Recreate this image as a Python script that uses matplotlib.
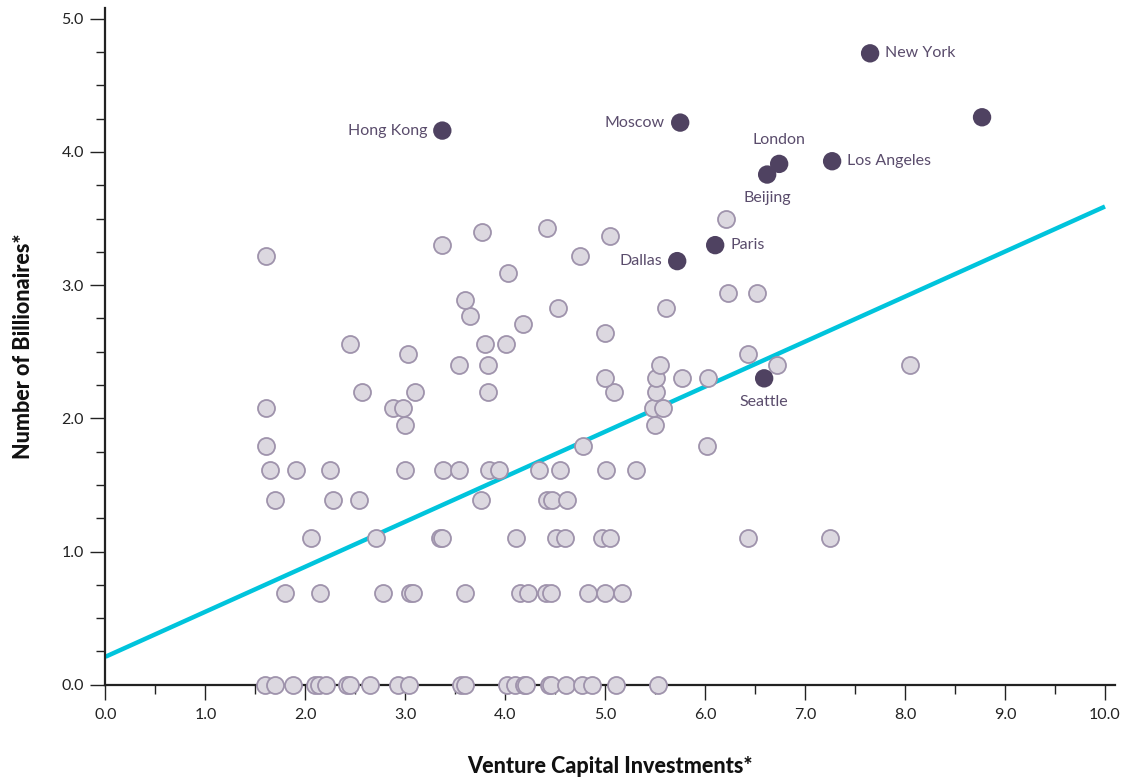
import matplotlib
matplotlib.use("Agg")
import matplotlib.pyplot as plt
from matplotlib.ticker import MultipleLocator, FormatStrFormatter

# ---- data ----
grey_x = [
    # y = 0.00
    1.60, 1.70, 1.88, 2.10, 2.14, 2.21, 2.42, 2.45, 2.65, 2.93, 3.04, 3.56, 3.60,
    4.02, 4.10, 4.19, 4.21, 4.44, 4.46, 4.61, 4.77, 4.87, 5.11, 5.53,
    # y = 0.69
    1.80, 2.15, 2.78, 3.05, 3.08, 3.60, 4.15, 4.23, 4.41, 4.46, 4.83, 5.00, 5.17,
    # y = 1.10
    2.06, 2.71, 3.35, 3.37, 4.11, 4.51, 4.60, 4.97, 5.05, 6.43, 7.25,
    # y = 1.39
    1.70, 2.28, 2.54, 3.76, 4.42, 4.47, 4.62,
    # y = 1.61
    1.65, 1.91, 2.25, 3.00, 3.38, 3.54, 3.84, 3.94, 4.34, 4.55, 5.01, 5.31,
    # y = 1.79
    1.61, 4.78, 6.02,
    # y = 1.95
    3.00, 5.50,
    # y = 2.08
    1.61, 2.88, 2.98, 5.48, 5.58,
    # y = 2.20
    2.57, 3.10, 3.83, 5.09, 5.51,
    # y = 2.30
    5.00, 5.51, 5.77, 6.03,
    # y = 2.40
    3.54, 3.83, 5.55, 6.72, 8.05,
    # y = 2.48
    3.03, 6.43,
    # y = 2.56
    2.45, 3.80, 4.01,
    # higher
    5.00, 4.18, 3.65, 4.53, 5.61, 3.60, 6.23, 6.52, 4.03, 1.61, 4.75,
    3.37, 5.05, 3.77, 4.42, 6.21,
]
grey_y = (
    [0.00] * 24 + [0.69] * 13 + [1.10] * 11 + [1.39] * 7 + [1.61] * 12 +
    [1.79] * 3 + [1.95] * 2 + [2.08] * 5 + [2.20] * 5 + [2.30] * 4 +
    [2.40] * 5 + [2.48] * 2 + [2.56] * 3 +
    [2.64, 2.71, 2.77, 2.83, 2.83, 2.89, 2.94, 2.94, 3.09, 3.22, 3.22,
     3.30, 3.37, 3.40, 3.43, 3.50]
)

city_names = ["Hong Kong", "Moscow", "New York", "", "London", "Beijing",
              "Los Angeles", "Paris", "Dallas", "Seattle"]
city_x = [3.37, 5.75, 7.65, 8.77, 6.74, 6.62, 7.27, 6.10, 5.72, 6.59]
city_y = [4.16, 4.22, 4.74, 4.26, 3.91, 3.83, 3.93, 3.30, 3.18, 2.30]
city_side = ["left", "left", "right", "right", "above", "below",
             "right", "right", "left", "below"]

trend_x = [0.0, 10.0]
trend_y = [0.21, 3.59]

x_ticks = [0, 1, 2, 3, 4, 5, 6, 7, 8, 9, 10]
y_ticks = [0, 1, 2, 3, 4, 5]

# ---- styles ----
FONT = "Lato"
GREY_FACE = "#dcd8e0"
GREY_EDGE = "#9f93ac"
DARK = "#4f4261"
LABEL_COLOR = "#5a4c6c"
TREND = "#00c4dc"
AXIS = "#222222"

fig = plt.figure(figsize=(11.33, 7.81), dpi=100)
ax = fig.add_axes([0.0931, 0.1233, 0.891, 0.8664])

ax.plot(trend_x, trend_y, color=TREND, lw=3.2, solid_capstyle="butt", zorder=2)
ax.scatter(grey_x, grey_y, s=150, facecolor=GREY_FACE, edgecolor=GREY_EDGE,
           linewidth=1.3, zorder=3, clip_on=False)
ax.scatter(city_x, city_y, s=175, facecolor=DARK, edgecolor="none",
           zorder=4, clip_on=False)

offsets = {"left": (-11, 0, "right"), "right": (11, 0, "left"),
           "above": (0, 17, "center"), "below": (0, -17, "center")}
for name, x, y, side in zip(city_names, city_x, city_y, city_side):
    if not name:
        continue
    dx, dy, ha = offsets[side]
    ax.annotate(name, (x, y), xytext=(dx, dy), textcoords="offset points",
                ha=ha, va="center", fontsize=11.5, color=LABEL_COLOR,
                family=FONT, zorder=5)

ax.set_xlim(0, 10.1)
ax.set_ylim(0, 5.08)

for s in ["top", "right"]:
    ax.spines[s].set_visible(False)
for s in ["left", "bottom"]:
    ax.spines[s].set_color(AXIS)
    ax.spines[s].set_linewidth(1.6)

ax.set_xticks(x_ticks)
ax.set_yticks(y_ticks)
ax.xaxis.set_minor_locator(MultipleLocator(0.5))
ax.yaxis.set_minor_locator(MultipleLocator(0.25))
ax.xaxis.set_major_formatter(FormatStrFormatter("%.1f"))
ax.yaxis.set_major_formatter(FormatStrFormatter("%.1f"))
ax.tick_params(axis="both", which="major", direction="out", length=10.5,
               width=1.0, color=AXIS, labelsize=11.5, labelcolor=AXIS)
ax.tick_params(axis="both", which="minor", direction="out", length=6.5,
               width=1.0, color=AXIS)
ax.tick_params(axis="x", which="major", pad=6)
ax.tick_params(axis="y", which="major", pad=5)
for lab in ax.get_xticklabels() + ax.get_yticklabels():
    lab.set_family(FONT)

ax.set_xlabel("Venture Capital Investments*", fontsize=15.5, fontweight=900,
              family=FONT, color="#111111", labelpad=25)
ax.set_ylabel("Number of Billionaires*", fontsize=15.5, fontweight=900,
              family=FONT, color="#111111", labelpad=20)

fig.savefig("out.png", dpi=100)
